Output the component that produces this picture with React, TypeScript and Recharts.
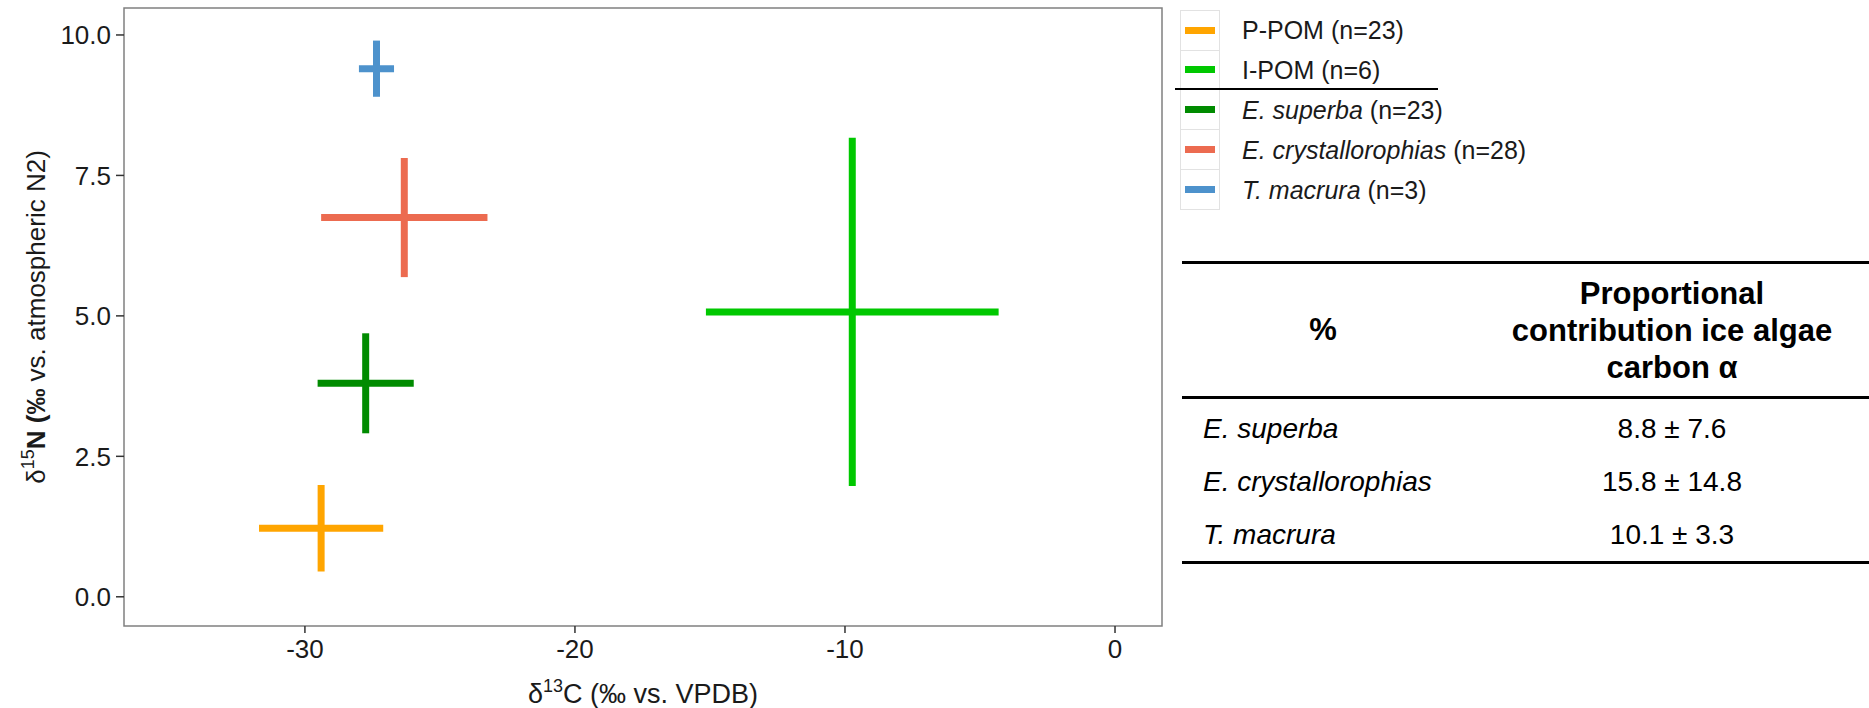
import React from "react";
import {
  ScatterChart,
  Scatter,
  XAxis,
  YAxis,
  ErrorBar,
  ReferenceArea,
} from "recharts";

// stable isotope groups: mean ± SD of δ13C and δ15N
const groups = ["P-POM", "I-POM", "E. superba", "E. crystallorophias", "T. macrura"];
const sampleSizes = [23, 6, 23, 28, 3];
const italicNames = [false, false, true, true, true];
const groupColors = ["#FFA500", "#00C800", "#008B00", "#EC6B50", "#4D92CC"];
const d13CMean = [-29.4, -9.73, -27.75, -26.32, -27.35];
const d13CSd = [2.3, 5.42, 1.78, 3.08, 0.65];
const d15NMean = [1.22, 5.07, 3.8, 6.75, 9.4];
const d15NSd = [0.77, 3.1, 0.89, 1.06, 0.5];

const xTicks = [-30, -20, -10, 0];
const yTicks = [0, 2.5, 5, 7.5, 10];
const xDomain: [number, number] = [-36.7, 1.74];
const yDomain: [number, number] = [-0.52, 10.48];

// mixing model output table
const tableSpecies = ["E. superba", "E. crystallorophias", "T. macrura"];
const iceAlgaeMean = [8.8, 15.8, 10.1];
const iceAlgaeSd = [7.6, 14.8, 3.3];

const FONT = '"Liberation Sans", Arial, sans-serif';
const TEXT = "#1a1a1a";

const YTitle = (props: any) => {
  const { viewBox } = props;
  const cx = viewBox.x + 45;
  const cy = viewBox.y + viewBox.height / 2;
  return (
    <text
      transform={`translate(${cx},${cy}) rotate(-90)`}
      textAnchor="middle"
      fontSize={26}
      fontFamily={FONT}
      fill={TEXT}
    >
      <tspan>δ</tspan>
      <tspan fontSize={18} dy={-11}>15</tspan>
      <tspan dy={11} fontWeight="bold">N (‰</tspan>
      <tspan> vs. atmospheric N2)</tspan>
    </text>
  );
};

const XTitle = (props: any) => {
  const { viewBox } = props;
  const cx = viewBox.x + viewBox.width / 2;
  const cy = viewBox.y + 77;
  return (
    <text x={cx} y={cy} textAnchor="middle" fontSize={27} fontFamily={FONT} fill={TEXT}>
      <tspan>δ</tspan>
      <tspan fontSize={18} dy={-11}>13</tspan>
      <tspan dy={11}>C (‰ vs. VPDB)</tspan>
    </text>
  );
};

const Legend = () => (
  <div style={{ position: "absolute", left: 1180, top: 10, fontFamily: FONT, fontSize: 25, color: TEXT }}>
    {groups.map((g, i) => (
      <div key={g} style={{ display: "flex", alignItems: "center", height: 40 }}>
        <div
          style={{
            width: 38,
            height: 39,
            border: "1px solid #e2e2e2",
            borderTop: i === 0 ? "1px solid #e2e2e2" : "none",
            display: "flex",
            alignItems: "center",
            justifyContent: "center",
          }}
        >
          <div style={{ width: 30, height: 7, background: groupColors[i] }} />
        </div>
        <span style={{ marginLeft: 22, whiteSpace: "nowrap" }}>
          <span style={{ fontStyle: italicNames[i] ? "italic" : "normal" }}>{g}</span> (n={sampleSizes[i]})
        </span>
      </div>
    ))}
    {/* divider between sources and consumers */}
    <div style={{ position: "absolute", left: -5, top: 78, width: 263, height: 2, background: "#000" }} />
  </div>
);

const rule = { height: 3, background: "#000" };

const ContributionTable = () => (
  <div style={{ position: "absolute", left: 1182, top: 261, width: 687, fontFamily: FONT, color: "#000" }}>
    <div style={rule} />
    <div style={{ display: "flex", alignItems: "center", height: 132, fontWeight: "bold", fontSize: 31 }}>
      <div style={{ width: 282, textAlign: "center" }}>%</div>
      <div style={{ width: 394, marginLeft: 11, textAlign: "center", lineHeight: "37px" }}>
        Proportional
        <br />
        contribution ice algae
        <br />
        carbon α
      </div>
    </div>
    <div style={rule} />
    <div style={{ paddingTop: 3, fontSize: 28 }}>
      {tableSpecies.map((s, i) => (
        <div key={s} style={{ display: "flex", alignItems: "center", height: 53 }}>
          <div style={{ width: 282, paddingLeft: 21, boxSizing: "border-box", fontStyle: "italic" }}>{s}</div>
          <div style={{ width: 394, marginLeft: 11, textAlign: "center" }}>
            {iceAlgaeMean[i].toFixed(1)} ± {iceAlgaeSd[i].toFixed(1)}
          </div>
        </div>
      ))}
    </div>
    <div style={rule} />
  </div>
);

export default function App() {
  return (
    <div style={{ position: "absolute", left: 0, top: 0, width: 1869, height: 708, background: "#fff" }}>
      <div style={{ position: "absolute", left: 0, top: 0 }}>
        <ScatterChart width={1170} height={708} margin={{ top: 8, right: 8, bottom: 0, left: 0 }}>
          <XAxis
            type="number"
            dataKey="x"
            domain={xDomain}
            ticks={xTicks}
            allowDataOverflow
            height={82}
            axisLine={false}
            tickSize={7}
            tickMargin={7}
            tickLine={{ stroke: "#333", strokeWidth: 1.5 }}
            tick={{ fontSize: 26, fill: TEXT, fontFamily: FONT }}
            label={{ content: (p: any) => <XTitle {...p} /> }}
          />
          <YAxis
            type="number"
            dataKey="y"
            domain={yDomain}
            ticks={yTicks}
            allowDataOverflow
            width={124}
            axisLine={false}
            tickSize={8}
            tickMargin={5}
            tickLine={{ stroke: "#333", strokeWidth: 1.5 }}
            tickFormatter={(v: number) => v.toFixed(1)}
            tick={{ fontSize: 26, fill: TEXT, fontFamily: FONT }}
            label={{ content: (p: any) => <YTitle {...p} /> }}
          />
          {/* panel frame */}
          <ReferenceArea
            x1={xDomain[0]}
            x2={xDomain[1]}
            y1={yDomain[0]}
            y2={yDomain[1]}
            fill="none"
            stroke="#808080"
            strokeWidth={1.5}
          />
          {groups.map((g, i) => (
            <Scatter
              key={g}
              name={g}
              data={[{ x: d13CMean[i], y: d15NMean[i], xErr: d13CSd[i], yErr: d15NSd[i] }]}
              shape={() => <g />}
              legendType="none"
              isAnimationActive={false}
            >
              <ErrorBar dataKey="xErr" direction="x" width={0} stroke={groupColors[i]} strokeWidth={7} isAnimationActive={false} />
              <ErrorBar dataKey="yErr" direction="y" width={0} stroke={groupColors[i]} strokeWidth={7} isAnimationActive={false} />
            </Scatter>
          ))}
        </ScatterChart>
      </div>
      <Legend />
      <ContributionTable />
    </div>
  );
}
